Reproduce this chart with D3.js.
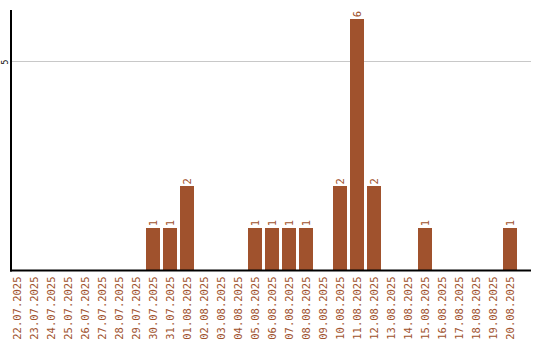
<!DOCTYPE html>
<html>
<head>
<meta charset="utf-8">
<script src="https://cdn.jsdelivr.net/npm/d3@7"></script>
<style>
	body { margin: 0; background: #fff; }
	text { font-family: "DejaVu Sans Mono", monospace; font-size: 10.5px; fill: #a0522d; }
	.ytick { fill: #000; font-size: 8px; }
</style>
</head>
<body>
<svg id="chart" width="540" height="340"></svg>
<script>
"use strict";

// Dates (categories)
var days = ["22.07.2025", "23.07.2025", "24.07.2025", "25.07.2025", "26.07.2025",
	"27.07.2025", "28.07.2025", "29.07.2025", "30.07.2025", "31.07.2025",
	"01.08.2025", "02.08.2025", "03.08.2025", "04.08.2025", "05.08.2025",
	"06.08.2025", "07.08.2025", "08.08.2025", "09.08.2025", "10.08.2025",
	"11.08.2025", "12.08.2025", "13.08.2025", "14.08.2025", "15.08.2025",
	"16.08.2025", "17.08.2025", "18.08.2025", "19.08.2025", "20.08.2025"];

// Count per day
var counts = [0, 0, 0, 0, 0, 0, 0, 0, 1, 1,
	2, 0, 0, 0, 1, 1, 1, 1, 0, 2,
	6, 2, 0, 0, 1, 0, 0, 0, 0, 1];

var yTicks = [5];

var svg = d3.select('#chart');
var barColor = '#a0522d';

// plot area
var plot = {bottom: 270, top: 10, left: 11, right: 531};

var x = d3.scaleBand().domain(days).range([8.5, 518.5])
	.paddingInner(3/17).paddingOuter(1.5/17);
var y = d3.scaleLinear().domain([0, 6.22]).range([plot.bottom, plot.top]);

// gridlines
svg.selectAll('line.grid').data(yTicks).enter().append('line')
	.attr('class', 'grid')
	.attr('x1', plot.left + 1).attr('x2', plot.right)
	.attr('y1', function(d) { return Math.round(y(d)) + 0.5; })
	.attr('y2', function(d) { return Math.round(y(d)) + 0.5; })
	.style('stroke', '#c8c8c8').style('stroke-width', 1);

// y tick labels (rotated)
svg.selectAll('text.ytick').data(yTicks).enter().append('text')
	.attr('class', 'ytick')
	.attr('transform', function(d) { return 'translate(8,' + (y(d) + 1) + ') rotate(-90)'; })
	.attr('text-anchor', 'middle')
	.text(function(d) { return d; });

// bars
svg.selectAll('rect.bar').data(counts).enter().append('rect')
	.attr('class', 'bar')
	.attr('x', function(d, i) { return x(days[i]); })
	.attr('width', x.bandwidth())
	.attr('y', function(d) { return y(d); })
	.attr('height', function(d) { return plot.bottom - y(d); })
	.style('fill', barColor)
	.attr('shape-rendering', 'crispEdges');

// value labels, only for non-empty days
counts.forEach(function(d, i) {
	if (d <= 0) return;
	svg.append('text')
		.attr('class', 'val')
		.attr('transform', 'translate(' + (x(days[i]) + x.bandwidth()/2 + 4) + ',' + (y(d) - 2) + ') rotate(-90)')
		.attr('text-anchor', 'start')
		.text(d);
});

// axes lines
svg.append('line').attr('x1', plot.left).attr('x2', plot.left).attr('y1', plot.top).attr('y2', 271.5)
	.style('stroke', '#000').style('stroke-width', 2);
svg.append('line').attr('x1', plot.left - 1).attr('x2', plot.right).attr('y1', 270.5).attr('y2', 270.5)
	.style('stroke', '#000').style('stroke-width', 2);

// x tick labels
svg.selectAll('text.xtick').data(days).enter().append('text')
	.attr('class', 'xtick')
	.attr('transform', function(d) { return 'translate(' + (x(d) + x.bandwidth()/2 + 4) + ',276.5) rotate(-90)'; })
	.attr('text-anchor', 'end')
	.text(function(d) { return d; });
</script>
</body>
</html>
